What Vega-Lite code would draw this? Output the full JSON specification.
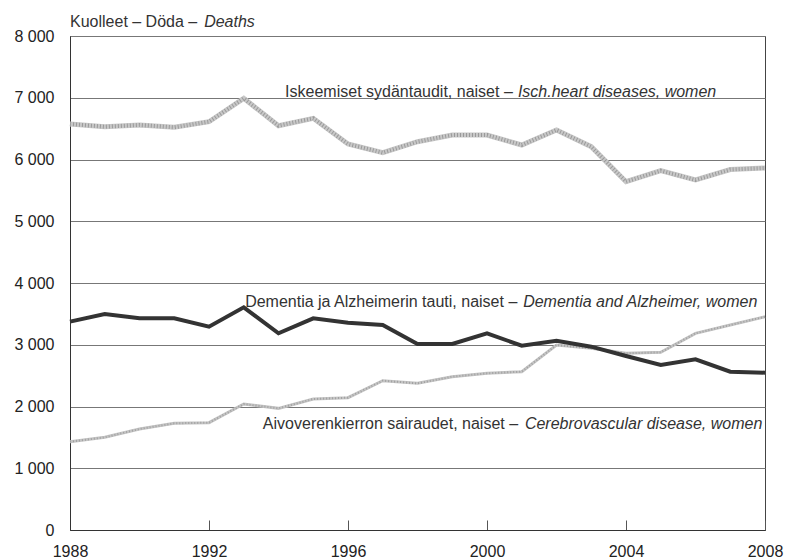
{
  "$schema": "https://vega.github.io/schema/vega-lite/v6.json",
  "width": 695,
  "height": 494,
  "autosize": {"type": "none"},
  "padding": {"left": 70, "top": 36, "right": 20, "bottom": 30},
  "background": "white",
  "config": {
    "view": {"stroke": "#444", "strokeWidth": 1},
    "font": "Liberation Sans",
    "text": {"font": "Liberation Sans", "fontSize": 16, "fill": "#333"}
  },
  "data": {
    "values": [
      {"year": 1988, "series": "heart", "value": 6575},
      {"year": 1989, "series": "heart", "value": 6531},
      {"year": 1990, "series": "heart", "value": 6559},
      {"year": 1991, "series": "heart", "value": 6521},
      {"year": 1992, "series": "heart", "value": 6612},
      {"year": 1993, "series": "heart", "value": 6991},
      {"year": 1994, "series": "heart", "value": 6547},
      {"year": 1995, "series": "heart", "value": 6667},
      {"year": 1996, "series": "heart", "value": 6251},
      {"year": 1997, "series": "heart", "value": 6110},
      {"year": 1998, "series": "heart", "value": 6288},
      {"year": 1999, "series": "heart", "value": 6397},
      {"year": 2000, "series": "heart", "value": 6397},
      {"year": 2001, "series": "heart", "value": 6235},
      {"year": 2002, "series": "heart", "value": 6478},
      {"year": 2003, "series": "heart", "value": 6208},
      {"year": 2004, "series": "heart", "value": 5641},
      {"year": 2005, "series": "heart", "value": 5819},
      {"year": 2006, "series": "heart", "value": 5668},
      {"year": 2007, "series": "heart", "value": 5838},
      {"year": 2008, "series": "heart", "value": 5862},
      {"year": 1988, "series": "dark", "value": 3374},
      {"year": 1989, "series": "dark", "value": 3498},
      {"year": 1990, "series": "dark", "value": 3428},
      {"year": 1991, "series": "dark", "value": 3428},
      {"year": 1992, "series": "dark", "value": 3293},
      {"year": 1993, "series": "dark", "value": 3606},
      {"year": 1994, "series": "dark", "value": 3185},
      {"year": 1995, "series": "dark", "value": 3428},
      {"year": 1996, "series": "dark", "value": 3357},
      {"year": 1997, "series": "dark", "value": 3320},
      {"year": 1998, "series": "dark", "value": 3012},
      {"year": 1999, "series": "dark", "value": 3012},
      {"year": 2000, "series": "dark", "value": 3185},
      {"year": 2001, "series": "dark", "value": 2985},
      {"year": 2002, "series": "dark", "value": 3066},
      {"year": 2003, "series": "dark", "value": 2969},
      {"year": 2004, "series": "dark", "value": 2818},
      {"year": 2005, "series": "dark", "value": 2672},
      {"year": 2006, "series": "dark", "value": 2764},
      {"year": 2007, "series": "dark", "value": 2564},
      {"year": 2008, "series": "dark", "value": 2548},
      {"year": 1988, "series": "light", "value": 1430},
      {"year": 1989, "series": "light", "value": 1501},
      {"year": 1990, "series": "light", "value": 1636},
      {"year": 1991, "series": "light", "value": 1728},
      {"year": 1992, "series": "light", "value": 1738},
      {"year": 1993, "series": "light", "value": 2040},
      {"year": 1994, "series": "light", "value": 1970},
      {"year": 1995, "series": "light", "value": 2121},
      {"year": 1996, "series": "light", "value": 2143},
      {"year": 1997, "series": "light", "value": 2418},
      {"year": 1998, "series": "light", "value": 2375},
      {"year": 1999, "series": "light", "value": 2483},
      {"year": 2000, "series": "light", "value": 2537},
      {"year": 2001, "series": "light", "value": 2564},
      {"year": 2002, "series": "light", "value": 2996},
      {"year": 2003, "series": "light", "value": 2942},
      {"year": 2004, "series": "light", "value": 2861},
      {"year": 2005, "series": "light", "value": 2877},
      {"year": 2006, "series": "light", "value": 3185},
      {"year": 2007, "series": "light", "value": 3320},
      {"year": 2008, "series": "light", "value": 3454}
    ]
  },
  "encoding": {
    "x": {
      "field": "year", "type": "quantitative",
      "scale": {"domain": [1988, 2008], "nice": false, "zero": false},
      "axis": {
        "title": null, "values": [1988, 1992, 1996, 2000, 2004, 2008], "format": "d",
        "grid": false, "domainColor": "#333", "tickColor": "#555", "tickSize": -10,
        "labelFontSize": 16, "labelColor": "#222", "labelPadding": 23, "labelFont": "Liberation Sans",
        "labelFlush": false
      }
    },
    "y": {
      "field": "value", "type": "quantitative",
      "scale": {"domain": [0, 8000], "nice": false},
      "axis": {
        "title": null, "values": [0, 1000, 2000, 3000, 4000, 5000, 6000, 7000, 8000],
        "labelExpr": "replace(format(datum.value, ','), ',', ' ')",
        "grid": true, "gridColor": "#777", "gridWidth": 1, "ticks": false,
        "domainColor": "#333", "labelFontSize": 16, "labelColor": "#222",
        "labelPadding": 16, "labelFont": "Liberation Sans"
      }
    }
  },
  "layer": [
    {
      "transform": [{"filter": "datum.series === 'heart'"}],
      "mark": {"type": "line", "stroke": "#c8c8c8", "strokeWidth": 5},
      "encoding": {}
    },
    {
      "transform": [{"filter": "datum.series === 'heart'"}],
      "mark": {"type": "line", "stroke": "#9a9a9a", "strokeWidth": 4, "strokeDash": [1, 2]},
      "encoding": {}
    },
    {
      "transform": [{"filter": "datum.series === 'light'"}],
      "mark": {"type": "line", "stroke": "#c4c4c4", "strokeWidth": 3},
      "encoding": {}
    },
    {
      "transform": [{"filter": "datum.series === 'light'"}],
      "mark": {"type": "line", "stroke": "#a0a0a0", "strokeWidth": 2, "strokeDash": [1, 2]},
      "encoding": {}
    },
    {
      "transform": [{"filter": "datum.series === 'dark'"}],
      "mark": {"type": "line", "stroke": "#333", "strokeWidth": 4},
      "encoding": {}
    },
    {
      "transform": [{"filter": "datum.series === 'heart' && datum.year === 1988"}],
      "mark": {"type": "text", "text": "Kuolleet – Döda – ", "align": "left", "baseline": "alphabetic"},
      "encoding": {"x": {"datum": 1988}, "y": {"datum": 8151}}
    },
    {
      "transform": [{"filter": "datum.series === 'heart' && datum.year === 1988"}],
      "mark": {"type": "text", "text": "Deaths", "align": "left", "baseline": "alphabetic", "fontStyle": "italic"},
      "encoding": {"x": {"datum": 1991.86}, "y": {"datum": 8151}}
    },
    {
      "transform": [{"filter": "datum.series === 'heart' && datum.year === 1988"}],
      "mark": {"type": "text", "text": "Iskeemiset sydäntaudit, naiset – ", "align": "left", "baseline": "alphabetic"},
      "encoding": {"x": {"datum": 1994.19}, "y": {"datum": 7007}}
    },
    {
      "transform": [{"filter": "datum.series === 'heart' && datum.year === 1988"}],
      "mark": {"type": "text", "text": "Isch.heart diseases, women", "align": "left", "baseline": "alphabetic", "fontStyle": "italic"},
      "encoding": {"x": {"datum": 2000.89}, "y": {"datum": 7007}}
    },
    {
      "transform": [{"filter": "datum.series === 'heart' && datum.year === 1988"}],
      "mark": {"type": "text", "text": "Dementia ja Alzheimerin tauti, naiset – ", "align": "left", "baseline": "alphabetic"},
      "encoding": {"x": {"datum": 1993.04}, "y": {"datum": 3616}}
    },
    {
      "transform": [{"filter": "datum.series === 'heart' && datum.year === 1988"}],
      "mark": {"type": "text", "text": "Dementia and Alzheimer, women", "align": "left", "baseline": "alphabetic", "fontStyle": "italic"},
      "encoding": {"x": {"datum": 2001.04}, "y": {"datum": 3616}}
    },
    {
      "transform": [{"filter": "datum.series === 'heart' && datum.year === 1988"}],
      "mark": {"type": "text", "text": "Aivoverenkierron sairaudet, naiset – ", "align": "left", "baseline": "alphabetic"},
      "encoding": {"x": {"datum": 1993.55}, "y": {"datum": 1631}}
    },
    {
      "transform": [{"filter": "datum.series === 'heart' && datum.year === 1988"}],
      "mark": {"type": "text", "text": "Cerebrovascular disease, women", "align": "left", "baseline": "alphabetic", "fontStyle": "italic"},
      "encoding": {"x": {"datum": 2001.09}, "y": {"datum": 1631}}
    }
  ]
}
